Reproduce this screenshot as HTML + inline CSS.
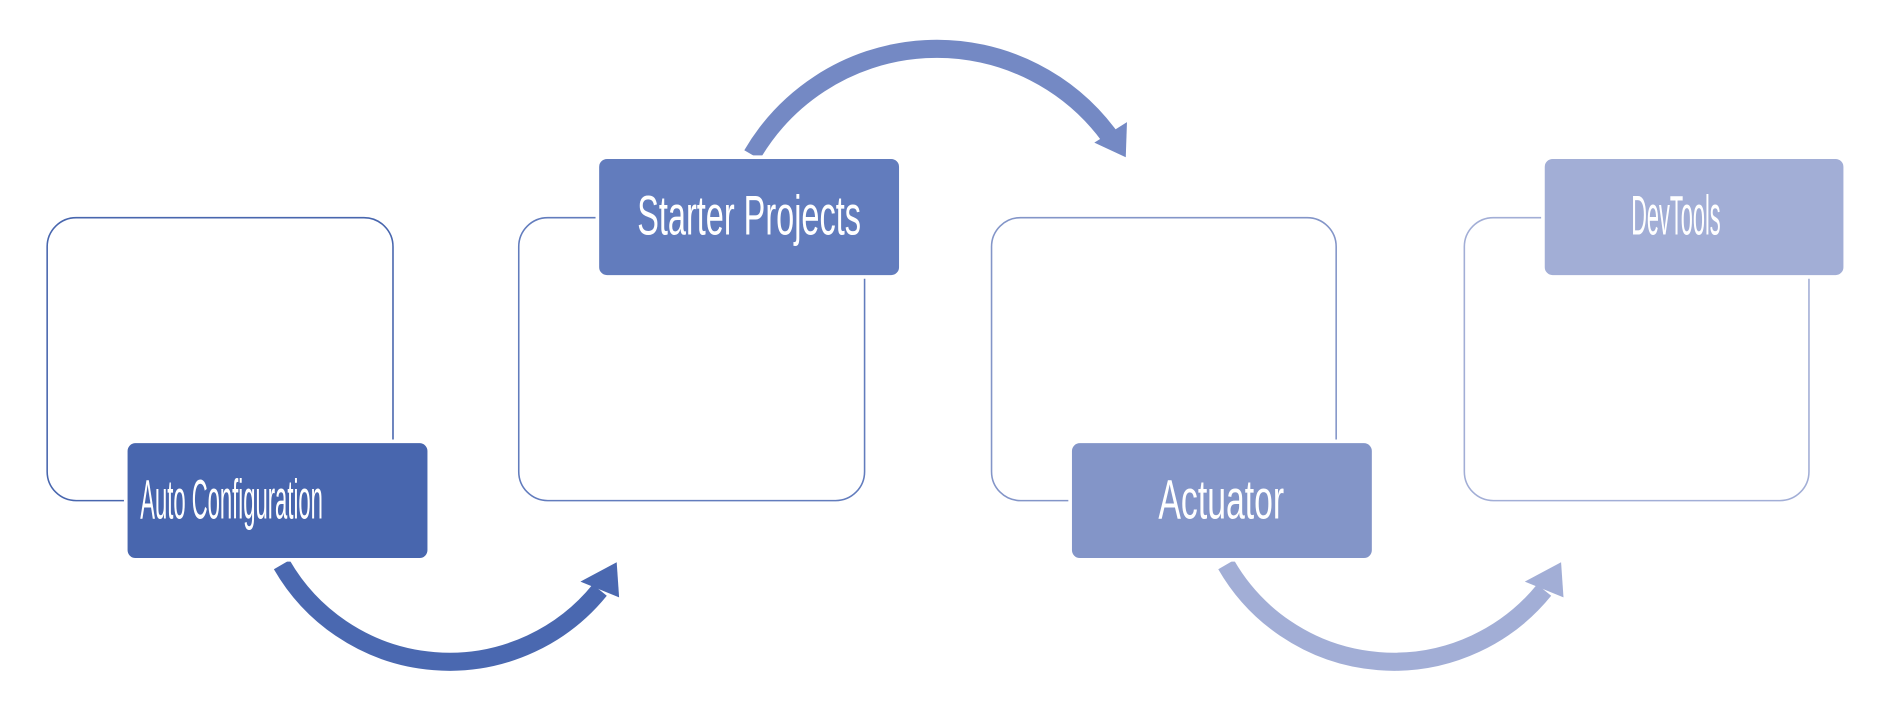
<!DOCTYPE html>
<html><head><meta charset="utf-8"><style>html,body{margin:0;padding:0;background:#fff}svg{display:block}</style></head>
<body>
<svg width="1896" height="714" viewBox="0 0 1896 714" xmlns="http://www.w3.org/2000/svg">
<g transform="scale(1.2092)">
<g fill="none" stroke-width="1.3">
<rect x="39" y="180" width="286" height="234" rx="24" stroke="#4866AE"/>
<rect x="429" y="180" width="286" height="234" rx="24" stroke="#627CBD"/>
<rect x="820" y="180" width="285" height="234" rx="24" stroke="#8395C8"/>
<rect x="1211" y="180" width="285" height="234" rx="24" stroke="#A2AED6"/>
</g>
<g fill="none" stroke-width="15">
<path d="M233 467 A160 160 0 0 0 496 488" stroke="#4A68B0"/>
<path d="M622 128 A177 177 0 0 1 917 112" stroke="#7489C4"/>
<path d="M1014 467 A160 160 0 0 0 1277 488" stroke="#A2AED6"/>
</g>
<polygon points="480,481 510,465 512,494" fill="#4A68B0"/>
<polygon points="905,118 932,101 931,130" fill="#7489C4"/>
<polygon points="1261,481 1291,465 1293,494" fill="#A2AED6"/>
<g stroke="#fff" stroke-width="3">
<rect x="104" y="365" width="251" height="98" rx="8" fill="#4866AE"/>
<rect x="494" y="130" width="251" height="99" rx="8" fill="#627CBD"/>
<rect x="885" y="365" width="251" height="98" rx="8" fill="#8395C8"/>
<rect x="1276" y="130" width="250" height="99" rx="8" fill="#A2AED6"/>
</g>
<g fill="#fff" font-family="Liberation Sans, sans-serif" font-size="46">
<text x="116" y="429" textLength="151" lengthAdjust="spacingAndGlyphs">Auto Configuration</text>
<text x="527" y="194" textLength="185" lengthAdjust="spacingAndGlyphs">Starter Projects</text>
<text x="958" y="429" textLength="104" lengthAdjust="spacingAndGlyphs">Actuator</text>
<text x="1349" y="194" textLength="74" lengthAdjust="spacingAndGlyphs">DevTools</text>
</g>
</g>
</svg>
</body></html>
